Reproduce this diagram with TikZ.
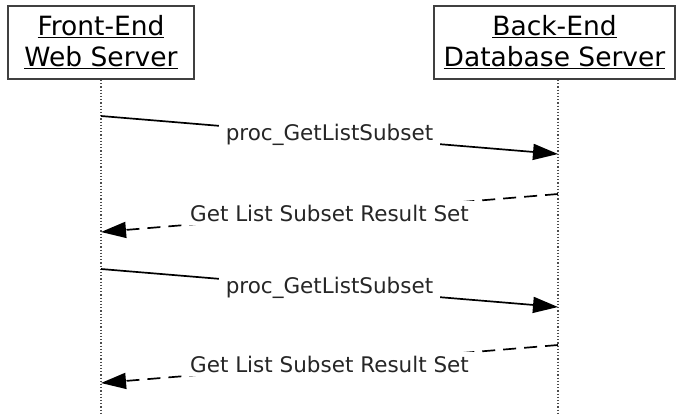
\documentclass[tikz,border=0pt]{standalone}
\usepackage{fontspec}
\setmainfont{DejaVu Sans}
\usetikzlibrary{arrows.meta}

\begin{document}
\begin{tikzpicture}[
  x=1pt, y=-1pt,
  server/.style={
    draw=black!75,
    line width=1.8pt,
    align=center,
    inner sep=0pt,
    minimum height=73pt,
    font=\fontsize{26.5}{31}\selectfont
  },
  lifeline/.style={draw=black!70, line width=1.2pt, dotted},
  msg/.style={line width=1.7pt, -{Triangle[length=25pt,width=16pt]}},
  reply/.style={msg, dash pattern=on 13pt off 8pt},
  lbl/.style={font=\fontsize{21.5}{24}\selectfont, text=black!85, fill=white, inner xsep=7pt, inner ysep=3.5pt, midway}
]
\useasboundingbox (0,0) rectangle (677,413);

% Servers
\node[server, minimum width=186pt] (web) at (101,42.5) {\underline{Front-End}\\\underline{Web Server}};
\node[server, minimum width=241pt] (db) at (554.5,42.5) {\underline{Back-End}\\\underline{Database Server}};

% Lifelines
\coordinate (webend) at (101,413);
\coordinate (dbend) at (558,413);
\draw[lifeline] (web.south) -- (webend);
\draw[lifeline] (db.south -| dbend) -- (dbend);

% Message points
\coordinate (w1) at (101,116);
\coordinate (d1) at (558,154);
\coordinate (d2) at (558,194);
\coordinate (w2) at (101,232);
\coordinate (w3) at (101,269);
\coordinate (d3) at (558,307);
\coordinate (d4) at (558,345);
\coordinate (w4) at (101,383);

% Messages
\draw[msg] (w1) -- node[lbl]{proc\_GetListSubset} (d1);
\draw[reply] (d2) -- node[lbl]{Get List Subset Result Set} (w2);
\draw[msg] (w3) -- node[lbl]{proc\_GetListSubset} (d3);
\draw[reply] (d4) -- node[lbl]{Get List Subset Result Set} (w4);

\end{tikzpicture}
\end{document}
